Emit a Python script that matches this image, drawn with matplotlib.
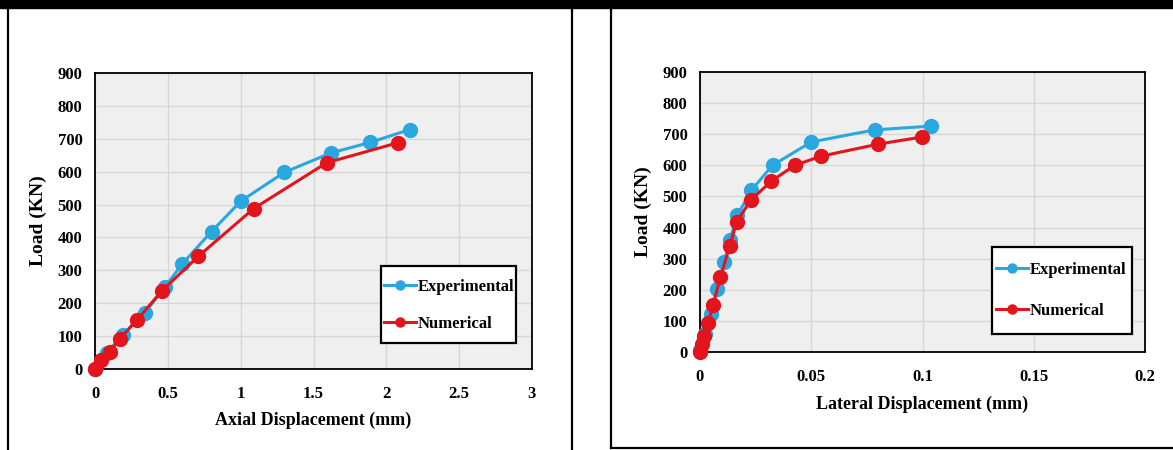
import matplotlib.pyplot as plt
from matplotlib.lines import Line2D
from matplotlib.patches import Rectangle

plt.rcParams['font.family'] = ['Liberation Serif', 'DejaVu Serif']
plt.rcParams['font.weight'] = 'bold'

# axial load-displacement
axial_exp_x = [0, 0.08, 0.19, 0.34, 0.48, 0.60, 0.80, 1.00, 1.30, 1.62, 1.89, 2.16]
axial_exp_y = [0, 48, 104, 170, 249, 320, 418, 510, 598, 657, 689, 728]
axial_num_x = [0, 0.04, 0.10, 0.17, 0.29, 0.46, 0.71, 1.09, 1.59, 2.08]
axial_num_y = [0, 28, 52, 92, 150, 238, 343, 488, 627, 688]

# lateral load-displacement
lat_exp_x = [0, 0.0024, 0.0049, 0.0078, 0.0109, 0.0134, 0.0168, 0.0231, 0.0326, 0.0500, 0.0785, 0.1038]
lat_exp_y = [5, 59, 123, 204, 289, 359, 439, 520, 600, 675, 714, 726]
lat_num_x = [0, 0.0007, 0.0019, 0.0036, 0.0058, 0.0092, 0.0134, 0.0165, 0.0228, 0.0320, 0.0426, 0.0542, 0.0800, 0.0997]
lat_num_y = [0, 27, 50, 93, 150, 241, 341, 418, 488, 549, 600, 629, 668, 691]

axial_ticks = [0, 0.5, 1, 1.5, 2, 2.5, 3]
axial_labels = ['0', '0.5', '1', '1.5', '2', '2.5', '3']
lat_ticks = [0, 0.05, 0.1, 0.15, 0.2]
lat_labels = ['0', '0.05', '0.1', '0.15', '0.2']
load_ticks = list(range(0, 901, 100))

BLUE = '#2aa7df'
RED = '#e3141b'
W, H = 1173, 450

fig = plt.figure(figsize=(W / 100, H / 100), dpi=100)


def px_axes(x0, y0, x1, y1):
    return fig.add_axes([x0 / W, 1 - y1 / H, (x1 - x0) / W, (y1 - y0) / H])


def style(ax, xticks, xlabels, xmax, xlabel, xpad, leg_anchor, spacing, box):
    ax.set_facecolor('#efefef')
    ax.grid(True, color='#d6d6d6', linewidth=1.0)
    ax.set_axisbelow(True)
    ax.set_xlim(0, xmax)
    ax.set_ylim(0, 900)
    ax.set_xticks(xticks)
    ax.set_xticklabels(xlabels)
    ax.set_yticks(load_ticks)
    ax.tick_params(length=0, labelsize=12)
    ax.tick_params(axis='x', pad=12)
    ax.tick_params(axis='y', pad=9)
    for s in ax.spines.values():
        s.set_linewidth(1.3)
        s.set_color('black')
    ax.set_xlabel(xlabel, fontsize=13, fontweight='bold', labelpad=xpad)
    ax.set_ylabel('Load (KN)', fontsize=14, fontweight='bold', labelpad=8)
    # legend box drawn separately so it can be taller than the entries need
    ax.add_patch(Rectangle(box[:2], box[2], box[3], transform=ax.transAxes,
                           facecolor='white', edgecolor='black', lw=1.6,
                           zorder=5))
    leg = ax.legend(loc='upper left', bbox_to_anchor=leg_anchor, borderaxespad=0,
                    frameon=False, fontsize=12, handlelength=1.9,
                    handletextpad=0.1, labelspacing=spacing, borderpad=0,
                    markerscale=0.65)
    leg.set_zorder(6)


# left panel: axial
ax1 = px_axes(95, 73, 532, 369)
ax1.plot(axial_exp_x, axial_exp_y, '-o', color=BLUE, lw=2.2, ms=10,
         label='Experimental', clip_on=False, zorder=3)
ax1.plot(axial_num_x, axial_num_y, '-o', color=RED, lw=2.2, ms=10,
         label='Numerical', clip_on=False, zorder=4)
style(ax1, axial_ticks, axial_labels, 3, 'Axial Displacement (mm)', 7,
      (0.662, 0.305), 1.28, (0.654, 0.088, 0.309, 0.26))

# right panel: lateral
ax2 = px_axes(700, 72, 1145, 352)
ax2.plot(lat_exp_x, lat_exp_y, '-o', color=BLUE, lw=2.2, ms=10,
         label='Experimental', clip_on=False, zorder=3)
ax2.plot(lat_num_x, lat_num_y, '-o', color=RED, lw=2.2, ms=10,
         label='Numerical', clip_on=False, zorder=4)
style(ax2, lat_ticks, lat_labels, 0.2, 'Lateral Displacement (mm)', 8,
      (0.666, 0.322), 1.52, (0.656, 0.064, 0.315, 0.311))


# page frame around the two figures
def fline(xs, ys, lw):
    fig.add_artist(Line2D([x / W for x in xs], [1 - y / H for y in ys],
                          color='black', lw=lw, transform=fig.transFigure))


fig.add_artist(Rectangle((0, 1 - 8 / H), 1, 8 / H, color='black',
                         transform=fig.transFigure))
fline([8, 8], [8, 450], 1.6)
fline([572, 572], [8, 450], 1.6)
fline([611, 611], [8, 448], 1.6)
fline([611, 1173], [448, 448], 1.6)

fig.savefig('out.png', dpi=100)
